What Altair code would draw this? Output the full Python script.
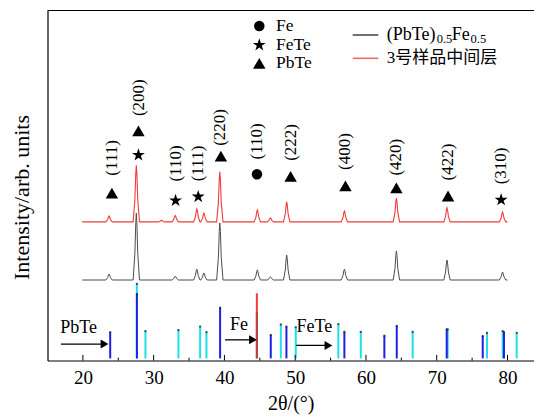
import altair as alt
import pandas as pd

# ---------------- values ----------------
# 2θ range covered by both diffraction patterns
pattern_start = 19.9
pattern_end = 80.0

# (PbTe)0.5Fe0.5 pattern (dark grey): baseline, peak positions, peak-top intensities
black_base = 23.0
black_peak_x = [23.7, 27.55, 33.05, 36.1, 37.1, 39.35, 44.65, 46.5, 48.8, 56.95, 64.3, 71.45, 79.3]
black_peak_top = [24.7, 42.1, 24.1, 26.1, 25.0, 39.3, 25.9, 23.9, 30.1, 26.1, 31.3, 28.7, 25.3]

# 3号样品中间层 pattern (red)
red_base = 39.6
red_peak_x = [23.7, 27.55, 31.1, 33.05, 36.1, 37.1, 39.35, 44.65, 46.5, 48.8, 56.95, 64.3, 71.45, 79.3]
red_peak_top = [41.3, 55.8, 40.1, 41.4, 43.3, 42.1, 53.9, 43.0, 40.7, 45.3, 42.7, 46.4, 43.6, 42.4]

# shape of one drawn peak: offset from centre (deg) and fraction of the peak height
profile_dx = [-0.45, -0.2, -0.08, 0.0, 0.08, 0.2, 0.45]
profile_frac = [0.0, 0.4, 0.85, 1.0, 0.85, 0.4, 0.0]

# reference sticks (PDF cards)
stick_base = 0.6
pbte_x = [23.86, 27.63, 39.39, 46.55, 48.76, 56.95, 62.6, 64.35, 71.41, 76.5, 79.5, 84.73]
pbte_h = [8.1, 19.0, 15.1, 7.3, 9.7, 8.2, 7.1, 9.9, 8.9, 7.0, 8.1, 7.6]
fete_x = [27.63, 28.84, 33.5, 36.57, 37.46, 47.97, 50.08, 56.1, 59.27, 66.6, 71.55, 77.1, 79.32, 81.3]
fete_h = [21.9, 8.4, 8.7, 9.7, 8.1, 10.3, 9.5, 10.4, 8.2, 8.2, 8.9, 7.9, 8.4, 7.9]
fe_x = [44.58]
fe_h = [19.2]
fe_dark_h = [13.9]

# phase markers above the peaks
marker_phase = ["PbTe", "PbTe", "FeTe", "FeTe", "FeTe", "PbTe", "Fe", "PbTe", "PbTe", "PbTe", "PbTe", "FeTe"]
marker_x = [24.1, 27.85, 27.85, 33.1, 36.3, 39.5, 44.6, 49.35, 57.1, 64.3, 71.6, 79.1]
marker_y = [47.8, 65.6, 58.7, 45.7, 46.8, 58.4, 53.2, 52.6, 49.9, 49.3, 47.0, 45.9]

# Miller index labels
hkl_text = ["(111)", "(200)", "(110)", "(111)", "(220)", "(110)", "(222)", "(400)", "(420)", "(422)", "(310)"]
hkl_x = [24.1, 27.95, 33.2, 36.27, 39.4, 44.6, 49.35, 57.1, 64.3, 71.6, 79.1]
hkl_y = [57.9, 75.1, 56.3, 56.3, 66.6, 62.6, 62.3, 59.7, 58.1, 56.7, 55.6]

# arrows pointing at the reference sticks
arrow_text = ["PbTe", "Fe", "FeTe"]
arrow_x0 = [16.9, 40.1, 50.13]
arrow_x1 = [23.06, 44.03, 54.7]
arrow_y = [4.7, 5.9, 4.3]
arrow_text_x = [16.8, 40.8, 50.2]
arrow_text_y = [9.3, 10.1, 9.6]

major_ticks = [20, 30, 40, 50, 60, 70, 80]
minor_ticks = [25, 35, 45, 55, 65, 75]

# ---------------- chart ----------------
SERIF = "Liberation Serif"
W, H = 486.5, 350
PX_PER_DEG = 7.077
STAR = ("M0,-1L0.225,-0.309L0.951,-0.309L0.363,0.118L0.588,0.809L0,0.382"
        "L-0.588,0.809L-0.363,0.118L-0.951,-0.309L-0.225,-0.309Z")

xscale = alt.Scale(domain=[15, 15 + W / PX_PER_DEG], nice=False, zero=False)
yscale = alt.Scale(domain=[0, 100], nice=False, zero=False)
xaxis = alt.Axis(values=major_ticks, title="2θ/(°)", ticks=False, tickSize=0, grid=False,
                 labelFont=SERIF, labelFontSize=19, labelColor="black", labelPadding=8,
                 labelFlush=False, titleFont=SERIF, titleFontSize=20, titleColor="black",
                 titleFontWeight="normal", titlePadding=6, domainColor="black", domainWidth=1.2)
yaxis = alt.Axis(title="", labels=False, ticks=False, grid=False, domainColor="black",
                 domainWidth=1.2)


def X(f):
    return alt.X(f"{f}:Q", scale=xscale, axis=xaxis)


def Y(f):
    return alt.Y(f"{f}:Q", scale=yscale, axis=yaxis)


def pattern(base, peak_x, peak_top):
    xs, ys = [pattern_start], [base]
    for p, t in zip(peak_x, peak_top):
        for dx, fr in zip(profile_dx, profile_frac):
            xs.append(round(p + dx, 3))
            ys.append(base + fr * (t - base))
    xs.append(pattern_end)
    ys.append(base)
    return pd.DataFrame({"x": xs, "y": ys})


black_line = alt.Chart(pattern(black_base, black_peak_x, black_peak_top)).mark_line(
    color="#4d4d4d", strokeWidth=1).encode(x=X("x"), y=Y("y"))
red_line = alt.Chart(pattern(red_base, red_peak_x, red_peak_top)).mark_line(
    color="#f03c3c", strokeWidth=1.1).encode(x=X("x"), y=Y("y"))


def sticks(xs, hs, color, caps=True):
    df = pd.DataFrame({"x": xs, "y0": [stick_base] * len(xs), "y1": hs})
    rule = alt.Chart(df).mark_rule(color=color, strokeWidth=2).encode(
        x=X("x"), y=Y("y0"), y2=alt.Y2("y1"))
    if not caps:
        return [rule]
    cap = alt.Chart(df).mark_point(shape="square", size=4, filled=True, color="#222222",
                                   opacity=0.8).encode(x=X("x"), y=Y("y1"))
    return [rule, cap]


stick_layers = (sticks(fete_x, fete_h, "#1de0e8") + sticks(pbte_x, pbte_h, "#1f1fe6")
                + sticks(fe_x, fe_h, "#f03a3a", caps=False)
                + sticks(fe_x, fe_dark_h, "#b8403f", caps=False))

markers = pd.DataFrame({"x": marker_x, "y": marker_y, "phase": marker_phase})
shape_of = {"Fe": ("circle", 110), "FeTe": (STAR, 185), "PbTe": ("triangle-up", 155)}
marker_layers = []
for ph, (shp, sz) in shape_of.items():
    marker_layers.append(
        alt.Chart(markers).transform_filter(alt.datum.phase == ph).mark_point(
            shape=shp, size=sz, filled=True, color="black", opacity=1).encode(x=X("x"), y=Y("y")))

hkl = alt.Chart(pd.DataFrame({"x": hkl_x, "y": hkl_y, "t": hkl_text})).mark_text(
    angle=270, font=SERIF, fontSize=17, color="black", align="center", baseline="middle"
).encode(x=X("x"), y=Y("y"), text="t:N")

arrows_df = pd.DataFrame({"x0": arrow_x0, "x1": arrow_x1, "y": arrow_y, "t": arrow_text,
                          "tx": arrow_text_x, "ty": arrow_text_y})
arrow_lines = alt.Chart(arrows_df).mark_rule(color="black", strokeWidth=1.3).encode(
    x=X("x0"), x2=alt.X2("x1"), y=Y("y"))
arrow_heads = alt.Chart(arrows_df).mark_point(shape="triangle-right", size=81, filled=True,
                                              color="black", opacity=1).encode(x=X("x1"), y=Y("y"))
arrow_labels = alt.Chart(arrows_df).mark_text(font=SERIF, fontSize=18, color="black",
                                              align="left", baseline="middle").encode(
    x=X("tx"), y=Y("ty"), text="t:N")

ticks_df = pd.DataFrame({"x": major_ticks + minor_ticks,
                         "y0": [0] * (len(major_ticks) + len(minor_ticks)),
                         "y1": [1.6] * len(major_ticks) + [0.8] * len(minor_ticks)})
inner_ticks = alt.Chart(ticks_df).mark_rule(color="black", strokeWidth=1).encode(
    x=X("x"), y=Y("y0"), y2=alt.Y2("y1"))

one = alt.Data(values=[{}])
top_frame = alt.Chart(one).mark_rule(color="black", strokeWidth=1.2).encode(
    x=alt.value(0), x2=alt.value(W), y=alt.value(0))

y_title = alt.Chart(one).mark_text(angle=270, font=SERIF, fontSize=22, color="black",
                                   align="center", baseline="middle").encode(
    x=alt.value(-25.5), y=alt.value(187), text=alt.value("Intensity/arb. units"))

# legend (pixel layout inside the plot area)
legend = []
for (shp, sz), yy in zip([shape_of["Fe"], shape_of["FeTe"], shape_of["PbTe"]], [15.5, 34.5, 52.8]):
    legend.append(alt.Chart(one).mark_point(shape=shp, size=sz, filled=True, color="black",
                                            opacity=1).encode(x=alt.value(211.8), y=alt.value(yy)))
for txt, yy in zip(["Fe", "FeTe", "PbTe"], [15.5, 34.5, 52.8]):
    legend.append(alt.Chart(one).mark_text(font=SERIF, fontSize=17.5, color="black", align="left",
                                           baseline="middle").encode(
        x=alt.value(228.5), y=alt.value(yy), text=alt.value(txt)))
for col, yy in [("#4d4d4d", 24.5), ("#f06a6a", 47.8)]:
    legend.append(alt.Chart(one).mark_rule(color=col, strokeWidth=1.6).encode(
        x=alt.value(305.2), x2=alt.value(330.8), y=alt.value(yy)))
for txt, xx, yy, fs in [("(PbTe)", 339.2, 24.5, 18), ("0.5", 389.2, 28.8, 12.5),
                        ("Fe", 404.2, 24.5, 18), ("0.5", 423.0, 28.8, 12.5)]:
    legend.append(alt.Chart(one).mark_text(font=SERIF, fontSize=fs, color="black", align="left",
                                           baseline="middle").encode(
        x=alt.value(xx), y=alt.value(yy), text=alt.value(txt)))
legend.append(alt.Chart(one).mark_text(font="Liberation Serif, 'Noto Sans CJK SC'", fontSize=17,
                                       color="black", align="left", baseline="middle").encode(
    x=alt.value(339.2), y=alt.value(47.8), text=alt.value("3号样品中间层")))

chart = alt.layer(
    black_line, red_line, *stick_layers, inner_ticks, *marker_layers, hkl,
    arrow_lines, arrow_heads, arrow_labels, top_frame, y_title, *legend
).properties(
    width=W, height=H,
    padding={"left": 39.5, "top": 2.5, "right": 0, "bottom": 58},
    autosize=alt.AutoSizeParams(type="none"),
).configure_view(strokeWidth=0)

chart.save("out.html", embed_options={"renderer": "svg", "actions": False})
